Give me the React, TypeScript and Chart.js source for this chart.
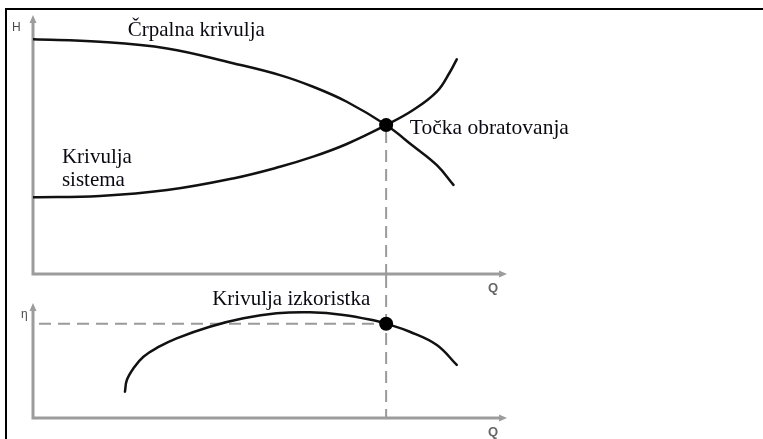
import { useEffect, useRef } from "react";
import { Chart, registerables } from "chart.js";

Chart.register(...registerables);

// Pump (head) curve: flow Q vs head H
const pumpQ = [0, 14.1, 28.3, 42.2, 52.1, 59.1, 66.2, 74.5, 80.2, 85.2, 88.7];
const pumpH = [90.6, 89.7, 87.1, 81.4, 76.8, 72.3, 66.5, 57.5, 49.4, 42.0, 34.4];

// System curve: flow Q vs required head H
const systemQ = [0, 14.1, 28.3, 42.2, 52.1, 59.1, 66.2, 74.5, 80.2, 85.2, 88.0, 89.4];
const systemH = [29.6, 30.1, 32.4, 36.9, 41.4, 45.3, 50.2, 57.5, 63.3, 70.4, 78.1, 82.9];

// Efficiency curve: flow Q vs efficiency η
const effQ = [19.4, 19.8, 21.2, 23.3, 26.6, 30.3, 37.3, 44.4, 51.4, 58.4, 65.5, 72.5, 74.5, 79.5, 85.2, 89.4];
const effEta = [22.9, 33.0, 43.2, 53.3, 62.0, 69.3, 79.4, 86.7, 91.0, 91.9, 89.6, 84.3, 82.0, 75.0, 63.5, 46.1];

// Operating point (intersection of pump and system curve)
const operatingQ = [74.5];
const operatingH = [57.5];
const operatingEta = [82.0];

// Text drawn on the diagram
const headLabels = ["Črpalna krivulja", "Točka obratovanja", "Krivulja", "sistema"];
const effLabels = ["Krivulja izkoristka"];
const axisLabels = ["H", "Q", "η"];

const W = 763;
const TOP_H = 296;
const BOT_TOP = 276;
const BOT_H = 439 - BOT_TOP;

const AXIS_COLOR = "#9c9c9c";
const CURVE_COLOR = "#111111";
const DASH_COLOR = "#9a9a9a";
const TEXT_COLOR = "#0a0a12";
const SERIF = '21px "Liberation Serif", "Times New Roman", serif';
const SERIF_WIDE = '21.5px "Liberation Serif", "Times New Roman", serif';
const SANS = '"Liberation Sans", Arial, sans-serif';

const zip = (xs: number[], ys: number[]) => xs.map((x, i) => ({ x, y: ys[i] }));

function drawAxes(ctx: CanvasRenderingContext2D, area: any) {
  ctx.save();
  ctx.strokeStyle = AXIS_COLOR;
  ctx.fillStyle = AXIS_COLOR;
  ctx.lineWidth = 3;
  ctx.lineJoin = "miter";
  ctx.beginPath();
  ctx.moveTo(area.left, area.top + 6);
  ctx.lineTo(area.left, area.bottom);
  ctx.lineTo(area.right - 6, area.bottom);
  ctx.stroke();
  // arrow heads
  ctx.beginPath();
  ctx.moveTo(area.left, area.top);
  ctx.lineTo(area.left - 3.5, area.top + 8);
  ctx.lineTo(area.left + 3.5, area.top + 8);
  ctx.closePath();
  ctx.fill();
  ctx.beginPath();
  ctx.moveTo(area.right, area.bottom);
  ctx.lineTo(area.right - 8, area.bottom - 3.5);
  ctx.lineTo(area.right - 8, area.bottom + 3.5);
  ctx.closePath();
  ctx.fill();
  ctx.restore();
}

function dashed(ctx: CanvasRenderingContext2D, x1: number, y1: number, x2: number, y2: number) {
  ctx.save();
  ctx.strokeStyle = DASH_COLOR;
  ctx.lineWidth = 2;
  ctx.setLineDash([12, 7]);
  ctx.beginPath();
  ctx.moveTo(x1, y1);
  ctx.lineTo(x2, y2);
  ctx.stroke();
  ctx.restore();
}

function text(ctx: CanvasRenderingContext2D, s: string, x: number, y: number, font: string, color: string) {
  ctx.save();
  ctx.font = font;
  ctx.fillStyle = color;
  ctx.textBaseline = "alphabetic";
  ctx.textAlign = "left";
  ctx.fillText(s, x, y);
  ctx.restore();
}

const headDecor = {
  id: "headDecor",
  beforeDatasetsDraw(chart: any) {
    const { ctx, chartArea: a, scales } = chart;
    drawAxes(ctx, a);
    const px = scales.x.getPixelForValue(operatingQ[0]);
    const py = scales.y.getPixelForValue(operatingH[0]);
    dashed(ctx, px, py + 6, px, a.bottom + 2);
  },
  afterDatasetsDraw(chart: any) {
    const { ctx, chartArea: a, scales } = chart;
    const X = (q: number) => scales.x.getPixelForValue(q);
    const Y = (h: number) => scales.y.getPixelForValue(h);
    text(ctx, headLabels[0], X(20.0), Y(91.9), SERIF, TEXT_COLOR);
    text(ctx, headLabels[1], X(79.5), Y(53.9), SERIF_WIDE, TEXT_COLOR);
    text(ctx, headLabels[2], X(6.1), Y(43.0), SERIF, TEXT_COLOR);
    text(ctx, headLabels[3], X(6.1), Y(34.1), SERIF, TEXT_COLOR);
    text(ctx, axisLabels[0], a.left - 21, a.top + 16, `12px ${SANS}`, "#4a4a4a");
    text(ctx, axisLabels[1], a.right - 19, a.bottom + 18, `bold 13px ${SANS}`, "#666");
  },
};

const effDecor = {
  id: "effDecor",
  beforeDatasetsDraw(chart: any) {
    const { ctx, chartArea: a, scales } = chart;
    drawAxes(ctx, a);
    const px = scales.x.getPixelForValue(operatingQ[0]);
    const py = scales.y.getPixelForValue(operatingEta[0]);
    dashed(ctx, px, 0, px, a.bottom);
    dashed(ctx, a.left + 6, py, px, py);
  },
  afterDatasetsDraw(chart: any) {
    const { ctx, chartArea: a, scales } = chart;
    const X = (q: number) => scales.x.getPixelForValue(q);
    const Y = (v: number) => scales.y.getPixelForValue(v);
    text(ctx, effLabels[0], X(37.8), Y(98.3), SERIF, TEXT_COLOR);
    text(ctx, axisLabels[2], a.left - 12, a.top + 15, `12px ${SANS}`, "#4a4a4a");
    text(ctx, axisLabels[1], a.right - 19, a.bottom + 18, `bold 13px ${SANS}`, "#666");
  },
};

const curveStyle = {
  borderColor: CURVE_COLOR,
  borderWidth: 2.5,
  pointRadius: 0,
  fill: false,
  tension: 0.4,
  borderCapStyle: "round" as const,
  borderJoinStyle: "round" as const,
};

const pointStyle = {
  showLine: false,
  pointRadius: 7,
  pointBackgroundColor: "#000",
  pointBorderColor: "#000",
  pointBorderWidth: 0,
};

function baseOptions(padding: any) {
  return {
    responsive: false,
    animation: false as const,
    events: [],
    layout: { padding },
    plugins: { legend: { display: false }, tooltip: { enabled: false } },
    scales: {
      x: { type: "linear" as const, min: 0, max: 100, display: false },
      y: { type: "linear" as const, min: 0, max: 100, display: false },
    },
  };
}

export default function App() {
  const topRef = useRef<HTMLCanvasElement>(null);
  const botRef = useRef<HTMLCanvasElement>(null);

  useEffect(() => {
    const top = new Chart(topRef.current!, {
      type: "line",
      data: {
        datasets: [
          { ...pointStyle, data: zip(operatingQ, operatingH) },
          { ...curveStyle, data: zip(pumpQ, pumpH) },
          { ...curveStyle, data: zip(systemQ, systemH) },
        ],
      },
      options: baseOptions({ left: 33, right: W - 507, top: 15, bottom: TOP_H - 274 }) as any,
      plugins: [headDecor],
    });
    const bot = new Chart(botRef.current!, {
      type: "line",
      data: {
        datasets: [
          { ...pointStyle, data: zip(operatingQ, operatingEta) },
          { ...curveStyle, data: zip(effQ, effEta) },
        ],
      },
      options: baseOptions({ left: 33, right: W - 507, top: 303 - BOT_TOP, bottom: 439 - 418 }) as any,
      plugins: [effDecor],
    });
    return () => {
      top.destroy();
      bot.destroy();
    };
  }, []);

  return (
    <div style={{ position: "absolute", left: 0, top: 0, width: W, height: 439, background: "#fff", overflow: "hidden" }}>
      <div
        style={{
          position: "absolute",
          left: 5,
          top: 8,
          width: W,
          height: 440,
          borderTop: "2px solid #000",
          borderLeft: "2px solid #000",
        }}
      />
      <canvas ref={topRef} width={W} height={TOP_H} style={{ position: "absolute", left: 0, top: 0 }} />
      <canvas ref={botRef} width={W} height={BOT_H} style={{ position: "absolute", left: 0, top: BOT_TOP }} />
    </div>
  );
}
